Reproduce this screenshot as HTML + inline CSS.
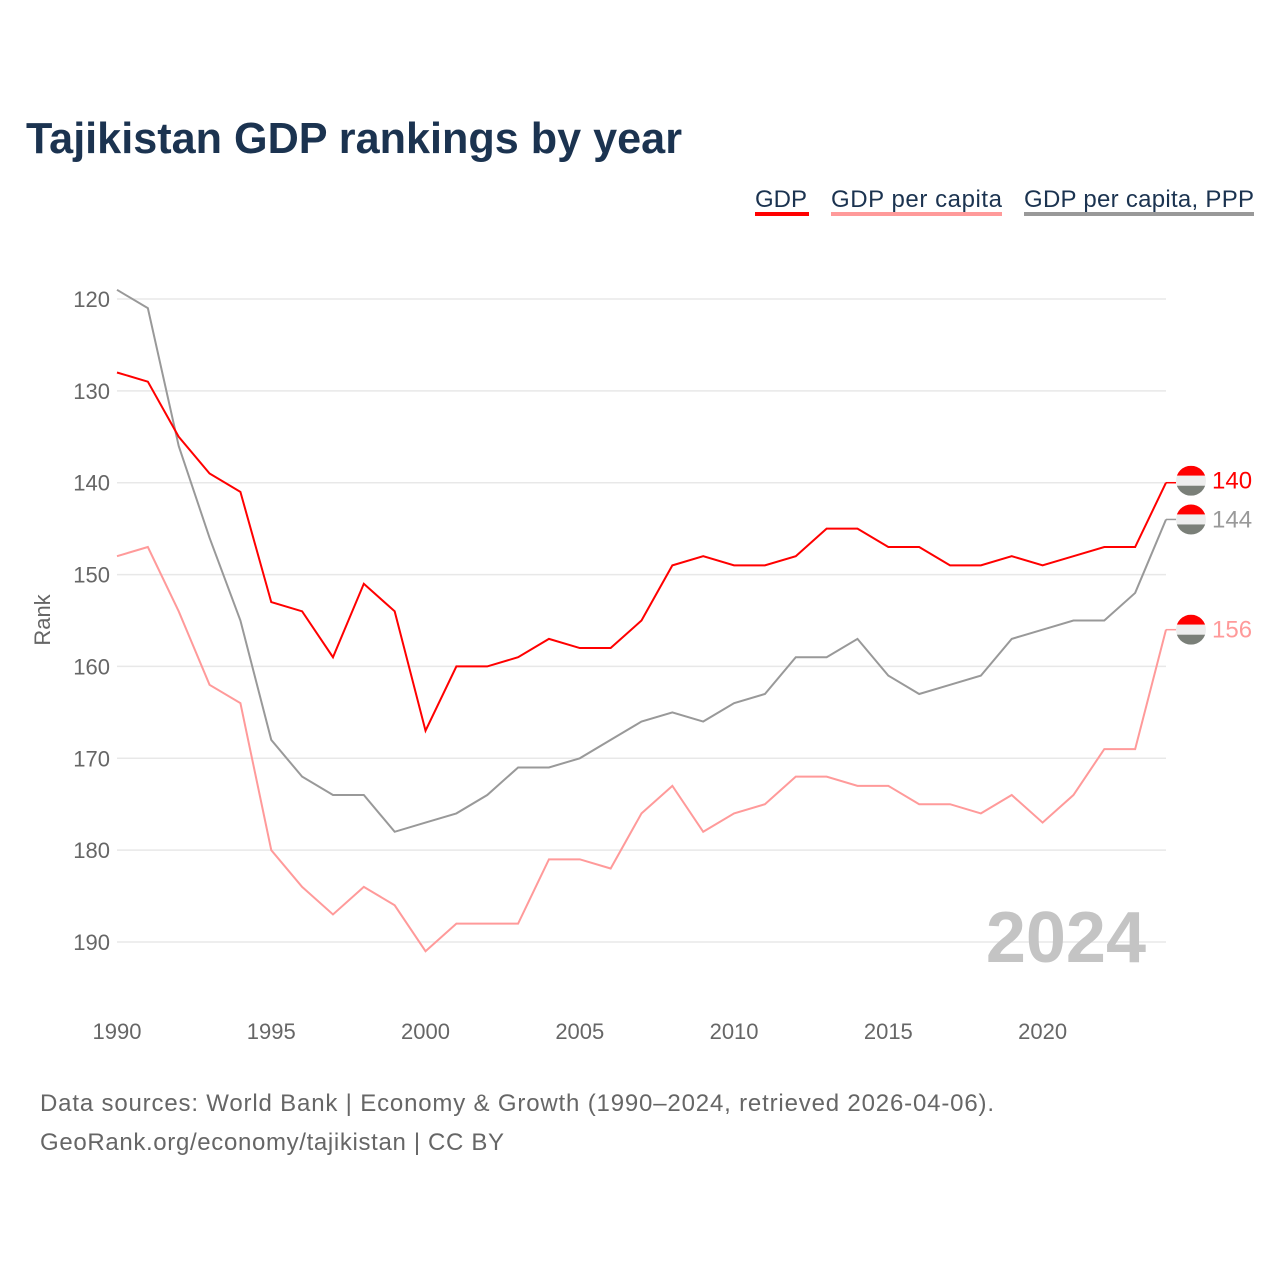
<!DOCTYPE html>
<html><head><meta charset="utf-8"><style>
body{margin:0;background:#fff;font-family:"Liberation Sans",sans-serif;}
svg text{font-family:"Liberation Sans",sans-serif;}
</style></head><body>
<svg id="c" width="1280" height="1280" viewBox="0 0 1280 1280">
<text x="26" y="153" font-size="44" font-weight="bold" fill="#1b3350" textLength="656" lengthAdjust="spacingAndGlyphs">Tajikistan GDP rankings by year</text>
<g>
<g><text x="755" y="207" font-size="24" fill="#1b3350">GDP</text><rect x="755" y="212" width="54" height="4" fill="#ff0000"/></g>
<g><text x="831" y="207" font-size="24" fill="#1b3350" textLength="171">GDP per capita</text><rect x="831" y="212" width="171" height="4" fill="#ff9a9a"/></g>
<g><text x="1024" y="207" font-size="24" fill="#1b3350" textLength="230">GDP per capita, PPP</text><rect x="1024" y="212" width="230" height="4" fill="#999"/></g>
</g>
<g id="grid"></g>
<g id="yt"></g>
<g id="xt"></g>
<text transform="translate(50,620) rotate(-90)" text-anchor="middle" font-size="22" fill="#666">Rank</text>
<text x="1146" y="962" text-anchor="end" font-size="72" font-weight="bold" fill="#c4c4c4">2024</text>
<g id="series"></g>
<text x="40" y="1111" font-size="24" fill="#666" textLength="954">Data sources: World Bank | Economy &amp; Growth (1990–2024, retrieved 2026-04-06).</text>
<text x="40" y="1150" font-size="24" fill="#666" textLength="464">GeoRank.org/economy/tajikistan | CC BY</text>
</svg>
<script>
const years=[];for(let y=1990;y<=2024;y++)years.push(y);
const gdp=[128,129,135,139,141,153,154,159,151,154,167,160,160,159,157,158,158,155,149,148,149,149,148,145,145,147,147,149,149,148,149,148,147,147,140];
const gdpPerCapita=[148,147,154,162,164,180,184,187,184,186,191,188,188,188,181,181,182,176,173,178,176,175,172,172,173,173,175,175,176,174,177,174,169,169,156];
const gdpPpp=[119,121,136,146,155,168,172,174,174,178,177,176,174,171,171,170,168,166,165,166,164,163,159,159,157,161,163,162,161,157,156,155,155,152,144];
const yTicks=[120,130,140,150,160,170,180,190];
const xTicks=[1990,1995,2000,2005,2010,2015,2020];
const NS='http://www.w3.org/2000/svg';
const X=v=>117+(v-1990)*(1166-117)/34;
const Y=v=>299+(v-120)*(942-299)/70;
function el(t,a,p){const e=document.createElementNS(NS,t);for(const k in a)e.setAttribute(k,a[k]);document.getElementById(p).appendChild(e);return e;}
yTicks.forEach(t=>{
 const l=el('line',{x1:117,x2:1166,y1:Y(t),y2:Y(t),stroke:'#e8e8e8','stroke-width':1.5},'grid');
 
 
 const tx=el('text',{x:110,y:Y(t)+8,'text-anchor':'end','font-size':22,fill:'#666'},'yt');
 tx.textContent=t;
 
 
});
xTicks.forEach(t=>{
 const tx=el('text',{x:X(t),y:1039,'text-anchor':'middle','font-size':22,fill:'#666'},'xt');
 tx.textContent=t;
 
 
});
const S=[[gdpPpp,'#999','gdp-ppp'],[gdpPerCapita,'#ff9a9a','gdp-per-capita'],[gdp,'#ff0000','gdp']];
S.forEach(([d,c,n])=>{
 const p=el('polyline',{points:d.map((v,i)=>X(years[i])+','+Y(v)).join(' '),fill:'none',stroke:c,'stroke-width':2},'series');
 
 
 const last=d[d.length-1],yy=Y(last)+(n==='gdp'?-2:0);
 const con=el('line',{x1:1166,x2:1176,y1:Y(last),y2:Y(last),stroke:c,'stroke-width':1.5},'series');
 
 
 const g=el('g',{},'series');
 
 
 const cx=1191,r=15;
 const cid='clip'+n;
 const cp=document.createElementNS(NS,'clipPath');cp.setAttribute('id',cid);
 const cc=document.createElementNS(NS,'circle');cc.setAttribute('cx',cx);cc.setAttribute('cy',yy);cc.setAttribute('r',r);cp.appendChild(cc);g.appendChild(cp);
 [['#ff0000',-r,10],['#eee',-r+10,10],['#7a7f78',-r+20,10]].forEach(([f,o,h])=>{
  const rc=document.createElementNS(NS,'rect');rc.setAttribute('x',cx-r);rc.setAttribute('y',yy+o);rc.setAttribute('width',2*r);rc.setAttribute('height',h);rc.setAttribute('fill',f);rc.setAttribute('clip-path','url(#'+cid+')');g.appendChild(rc);
 });
 const tx=el('text',{x:1212,y:yy+8,'font-size':24,fill:c},'series');
 tx.textContent=last;
 
 
});
</script>
</body></html>
